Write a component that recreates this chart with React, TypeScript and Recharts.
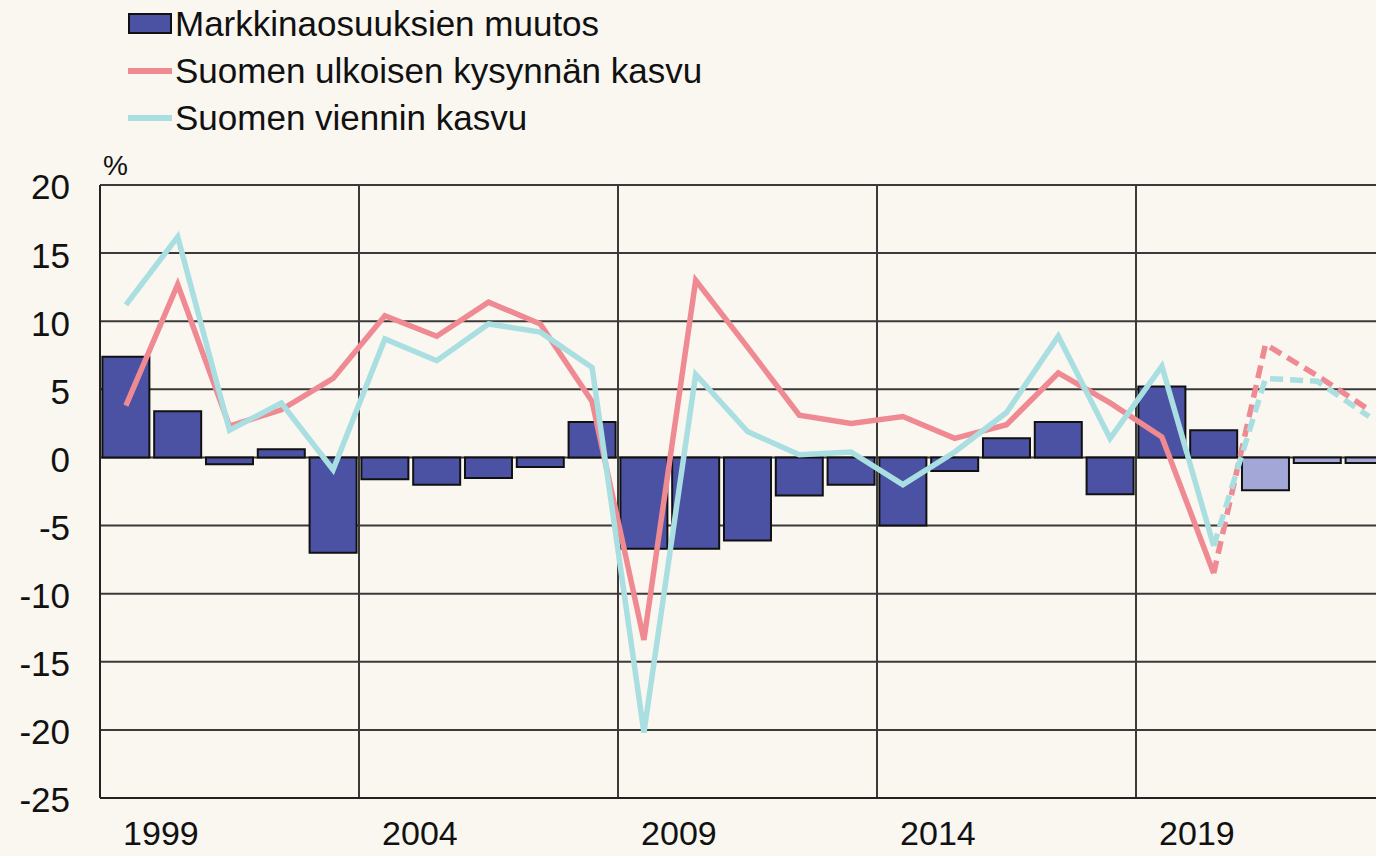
import { ComposedChart, Bar, Line, XAxis, YAxis, CartesianGrid, Cell } from 'recharts'

const years = [
  '1999', '2000', '2001', '2002', '2003', '2004', '2005', '2006', '2007', '2008',
  '2009', '2010', '2011', '2012', '2013', '2014', '2015', '2016', '2017', '2018',
  '2019', '2020', '2021', '2022', '2023',
]

// Markkinaosuuksien muutos
const marketShare = [
  7.4, 3.4, -0.5, 0.6, -7.0, -1.6, -2.0, -1.5, -0.7, 2.6,
  -6.7, -6.7, -6.1, -2.8, -2.0, -5.0, -1.0, 1.4, 2.6, -2.7,
  5.2, 2.0, -2.4, -0.4, -0.4,
]

// Suomen ulkoisen kysynnän kasvu
const externalDemand = [
  3.8, 12.7, 2.3, 3.5, 5.8, 10.4, 8.9, 11.4, 9.8, 4.1,
  -13.4, 13.0, 8.1, 3.1, 2.5, 3.0, 1.4, 2.4, 6.2, 4.0,
  1.5, -8.5, 8.3, 6.0, 3.5,
]

// Suomen viennin kasvu
const exportGrowth = [
  11.2, 16.2, 2.0, 4.0, -0.9, 8.7, 7.1, 9.8, 9.2, 6.6,
  -20.2, 6.1, 1.9, 0.2, 0.4, -2.0, 0.4, 3.3, 8.9, 1.4,
  6.7, -6.5, 5.8, 5.6, 3.0,
]

const yTicks = [-25, -20, -15, -10, -5, 0, 5, 10, 15, 20]
const labelEvery = 5
const forecastFrom = '2021'

const BG = '#faf6f0'
const BAR = '#4b52a4'
const BAR_LIGHT = '#a3a7d7'
const RED = '#ef8a93'
const CYAN = '#aadfe2'
const FONT = '"Liberation Sans", Arial, sans-serif'

const lastActual = years.indexOf(forecastFrom) - 1

const data = years.map((year, i) => ({
  year,
  share: marketShare[i],
  demand: i <= lastActual ? externalDemand[i] : null,
  demandF: i >= lastActual ? externalDemand[i] : null,
  exports: i <= lastActual ? exportGrowth[i] : null,
  exportsF: i >= lastActual ? exportGrowth[i] : null,
}))

const YearTick = ({ x, y, payload, index }: any) => {
  if (index % labelEvery !== 0) return null
  return (
    <text x={x + 35} y={y + 47} textAnchor="middle" fill="#111" fontSize={34} fontFamily={FONT}>
      {payload.value}
    </text>
  )
}

const legendItems = [
  { label: 'Markkinaosuuksien muutos', kind: 'bar', color: BAR },
  { label: 'Suomen ulkoisen kysynnän kasvu', kind: 'line', color: RED },
  { label: 'Suomen viennin kasvu', kind: 'line', color: CYAN },
]

export default function App() {
  return (
    <div
      style={{
        position: 'absolute',
        left: 0,
        top: 0,
        width: 1376,
        height: 856,
        overflow: 'hidden',
        background: BG,
        fontFamily: FONT,
        color: '#111',
      }}
    >
      <div style={{ position: 'absolute', left: 128, top: 0 }}>
        {legendItems.map((item) => (
          <div key={item.label} style={{ display: 'flex', alignItems: 'center', height: 47, fontSize: 35 }}>
            {item.kind === 'bar' ? (
              <span style={{ width: 40, height: 17, background: item.color, border: '2px solid #111', marginRight: 3 }} />
            ) : (
              <span style={{ width: 44, height: 6, background: item.color, marginRight: 3 }} />
            )}
            <span>{item.label}</span>
          </div>
        ))}
      </div>
      <div style={{ position: 'absolute', left: 103, top: 150, fontSize: 28 }}>%</div>

      <ComposedChart
        width={1400}
        height={856}
        data={data}
        margin={{ top: 185, right: 5, bottom: 0, left: 0 }}
        barCategoryGap="4.6%"
      >
        <CartesianGrid
          stroke="#3a3a3a"
          strokeWidth={2}
          verticalCoordinatesGenerator={({ offset }: any) =>
            years
              .map((_, i) => i)
              .filter((i) => i % labelEvery === 0)
              .map((i) => offset.left + (i * offset.width) / years.length)
          }
        />
        <XAxis
          dataKey="year"
          interval={0}
          height={58}
          tickSize={0}
          tickMargin={0}
          axisLine={{ stroke: '#222', strokeWidth: 2 }}
          tick={<YearTick />}
        />
        <YAxis
          width={100}
          domain={[-25, 20]}
          ticks={yTicks}
          interval={0}
          tickSize={0}
          tickMargin={30}
          axisLine={{ stroke: '#222', strokeWidth: 2 }}
          tick={{ fill: '#111', fontSize: 35, fontFamily: FONT, dy: 2 }}
        />
        <Bar dataKey="share" stroke="#111" strokeWidth={2} isAnimationActive={false}>
          {years.map((year, i) => (
            <Cell key={year} fill={i > lastActual ? BAR_LIGHT : BAR} />
          ))}
        </Bar>
        <Line dataKey="demand" stroke={RED} strokeWidth={5.5} dot={false} isAnimationActive={false} />
        <Line
          dataKey="demandF"
          stroke={RED}
          strokeWidth={5.5}
          strokeDasharray="13 7"
          dot={false}
          isAnimationActive={false}
        />
        <Line dataKey="exports" stroke={CYAN} strokeWidth={5.5} dot={false} isAnimationActive={false} />
        <Line
          dataKey="exportsF"
          stroke={CYAN}
          strokeWidth={5.5}
          strokeDasharray="13 7"
          dot={false}
          isAnimationActive={false}
        />
      </ComposedChart>
    </div>
  )
}
